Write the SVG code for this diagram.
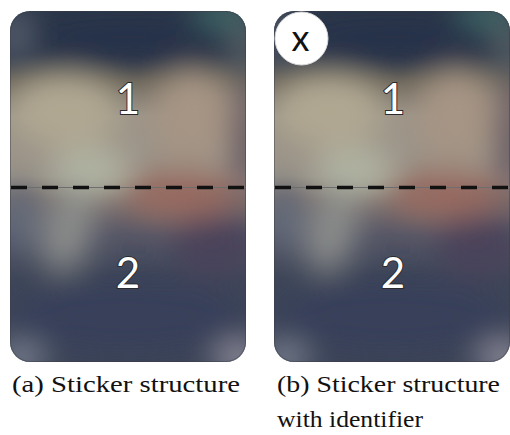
<svg xmlns="http://www.w3.org/2000/svg" xmlns:xlink="http://www.w3.org/1999/xlink" width="510" height="435" viewBox="0 0 510 435">
  <style>
    .num { font-family: Lato, "Open Sans", "DejaVu Sans", sans-serif; font-size: 42px; fill: #ffffff; stroke: #2a2a2e; stroke-width: 2px; paint-order: stroke; text-anchor: middle; }
    .badge-text { font-family: Lato, "Open Sans", "DejaVu Sans", sans-serif; font-size: 36px; fill: #111111; text-anchor: middle; }
    .caption { font-family: "Liberation Serif", "Times New Roman", serif; font-size: 23px; fill: #111111; }
    .fold-thin { stroke: #6e6e6e; stroke-width: 1; fill: none; }
    .fold-dash { stroke: #111111; stroke-width: 3.5; stroke-dasharray: 16 15; fill: none; }
  </style>
  <defs>
    <clipPath id="cardClip">
      <rect x="0" y="0" width="236" height="351" rx="20" ry="20"/>
    </clipPath>
    <linearGradient id="baseGrad" x1="0" y1="0" x2="0" y2="1">
      <stop offset="0" stop-color="#2c3748"/>
      <stop offset="0.12" stop-color="#303a4a"/>
      <stop offset="0.2" stop-color="#6e685c"/>
      <stop offset="0.3" stop-color="#9c9488"/>
      <stop offset="0.47" stop-color="#9a9388"/>
      <stop offset="0.54" stop-color="#7a6e6c"/>
      <stop offset="0.64" stop-color="#555666"/>
      <stop offset="0.76" stop-color="#3e4658"/>
      <stop offset="1" stop-color="#3c4457"/>
    </linearGradient>
    <filter id="soft" x="-50%" y="-50%" width="200%" height="200%">
      <feGaussianBlur stdDeviation="15"/>
    </filter>
    <!-- blurred photo backdrop of a sticker, local coordinates 236 x 351 -->
    <g id="backdrop">
      <g clip-path="url(#cardClip)">
        <rect x="0" y="0" width="236" height="351" fill="url(#baseGrad)"/>
        <g filter="url(#soft)">
          <ellipse cx="118" cy="26" rx="110" ry="24" fill="#26314a"/>
          <ellipse cx="215" cy="2" rx="32" ry="16" fill="#3f6868"/>
          <ellipse cx="4" cy="24" rx="16" ry="28" fill="#56606e"/>
          <ellipse cx="236" cy="40" rx="14" ry="30" fill="#5a6468"/>
          <ellipse cx="55" cy="100" rx="55" ry="36" fill="#b0a792"/>
          <ellipse cx="182" cy="105" rx="40" ry="45" fill="#a69484"/>
          <ellipse cx="238" cy="125" rx="16" ry="60" fill="#625460"/>
          <ellipse cx="80" cy="160" rx="40" ry="24" fill="#b0b3a2"/>
          <ellipse cx="170" cy="184" rx="58" ry="24" fill="#986a60"/>
          <ellipse cx="10" cy="205" rx="18" ry="34" fill="#606a7a"/>
          <ellipse cx="58" cy="218" rx="24" ry="44" fill="#8a8c8a" transform="rotate(15 58 218)"/>
          <ellipse cx="205" cy="236" rx="44" ry="30" fill="#48435a"/>
          <ellipse cx="118" cy="305" rx="120" ry="38" fill="#37405a"/>
          <ellipse cx="10" cy="348" rx="24" ry="16" fill="#7e8594"/>
          <ellipse cx="230" cy="348" rx="26" ry="18" fill="#908e9c"/>
        </g>
      </g>
      <rect x="0.5" y="0.5" width="235" height="350" rx="20" ry="20" fill="none" stroke="#3a3c46" stroke-opacity="0.45" stroke-width="1"/>
      <!-- fold line between the two halves -->
      <line class="fold-thin" x1="0" y1="176.5" x2="236" y2="176.5"/>
      <line class="fold-dash" x1="1" y1="176.5" x2="236" y2="176.5"/>
    </g>
  </defs>

  <g id="sticker-a">
    <use xlink:href="#backdrop" href="#backdrop" transform="translate(10,11)"/>
    <text class="num" x="128" y="114">1</text>
    <text class="num" x="128" y="288">2</text>
  </g>

  <g id="sticker-b">
    <use xlink:href="#backdrop" href="#backdrop" transform="translate(274,11)"/>
    <text class="num" x="393" y="114">1</text>
    <text class="num" x="393" y="288">2</text>
    <g id="identifier">
      <circle cx="301.5" cy="38.5" r="26.5" fill="#ffffff" stroke="#d8d8d8" stroke-width="1"/>
      <text class="badge-text" x="300.5" y="51">x</text>
    </g>
  </g>

  <g id="connectors"/>

  <g id="captions">
    <text class="caption" x="12" y="392" textLength="228" lengthAdjust="spacingAndGlyphs">(a) Sticker structure</text>
    <text class="caption" x="277" y="392" textLength="223" lengthAdjust="spacingAndGlyphs">(b) Sticker structure</text>
    <text class="caption" x="277" y="427" textLength="146" lengthAdjust="spacingAndGlyphs">with identifier</text>
  </g>
</svg>
